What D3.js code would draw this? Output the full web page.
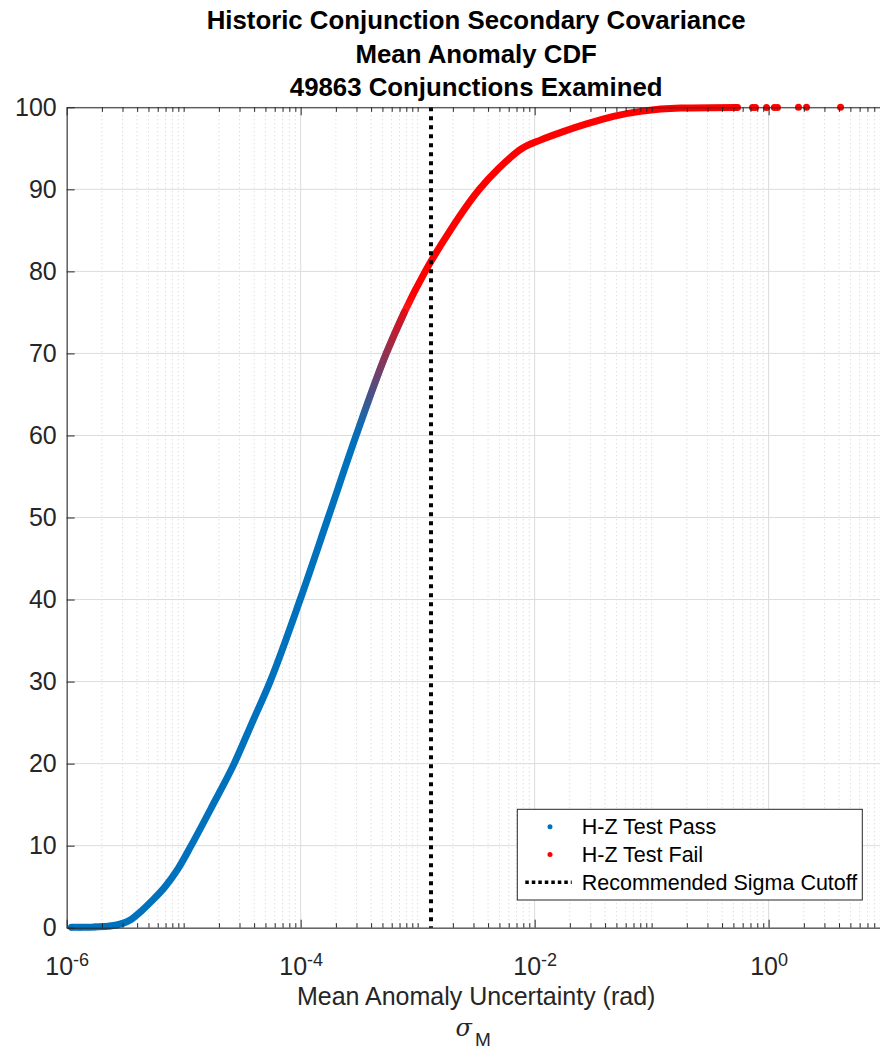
<!DOCTYPE html>
<meta charset="utf-8">
<script src="https://d3js.org/d3.v7.min.js"></script>
<style>
body { margin: 0; background: white; }
svg { display: block; font-family: "Liberation Sans", Arial, Helvetica, sans-serif; }
.axis path, .axis line { stroke: #262626; }
.axis text { fill: #262626; font-size: 25px; }
.grid-major line { stroke: #dcdcdc; stroke-width: 1; }
.grid-minor line { stroke: #d0d0d0; stroke-width: 1; stroke-dasharray: 1 3; }
.title { font-weight: bold; font-size: 25.8px; fill: #000; }
.legend text { font-size: 21.5px; fill: #000; }
</style>
<body>
<svg id="chart" width="880" height="1049"></svg>
<script>
// CDF: sigma (rad) and cumulative percent
var passSigma = [1.1e-6, 1.3e-6, 1.75e-6, 2.35e-6, 2.97e-6, 3.55e-6, 4.32e-6, 5.37e-6, 6.93e-6, 8.96e-6,
                 1.158e-5, 1.78e-5, 2.7e-5, 3.85e-5, 5.48e-5, 9.9e-5, 1.719e-4, 2.98e-4, 5.39e-4, 7.68e-4];
var passCdf   = [0.05, 0.05, 0.1, 0.2, 0.5, 1, 2, 3.3, 5, 7.2,
                 10, 15, 20, 25, 30, 40, 50, 60, 70, 75];

var failSigma = [2.98e-4, 5.39e-4, 7.68e-4, 1.161e-3, 1.9e-3, 3.37e-3, 4.89e-3, 7.85e-3, 0.01119, 0.01726,
                 0.0282, 0.0471, 0.0802, 0.1764, 0.542];
var failCdf   = [60, 70, 75, 80, 85, 90, 92.5, 95, 96, 97,
                 98, 98.9, 99.5, 99.9, 99.97];

// sparse fail points at the top end
var tailSigma = [0.728, 0.772, 0.96, 1.12, 1.19, 1.80, 2.11, 4.12];
var tailCdf   = [99.98, 99.98, 99.99, 99.99, 99.99, 100, 100, 100];

var cutoffSigma = 1.3e-3;

var xMajorTicks = [1e-6, 1e-4, 1e-2, 1e0];
var xTickExp    = ["-6", "-4", "-2", "0"];
var yTicks      = [0, 10, 20, 30, 40, 50, 60, 70, 80, 90, 100];

var titleLines  = ["Historic Conjunction Secondary Covariance", "Mean Anomaly CDF", "49863 Conjunctions Examined"];
var legendNames = ["H-Z Test Pass", "H-Z Test Fail", "Recommended Sigma Cutoff"];

var blue = "#0072BD", red = "#FF0000";

var svg = d3.select("#chart");
var margin = { top: 107.3, left: 66.7 };
var width = 818.9, height = 820.4;

var g = svg.append("g").attr("transform", "translate(" + margin.left + "," + margin.top + ")");

var x = d3.scaleLog().domain([1e-6, 1e1]).range([0, width]);
var y = d3.scaleLinear().domain([0, 100]).range([height, 0]);

var majorSet = xMajorTicks.map(function(d) { return Math.round(Math.log10(d)); });
var xMinor = x.ticks().filter(function(d) {
    var l = Math.log10(d);
    return !(Math.abs(l - Math.round(l)) < 1e-9 && majorSet.indexOf(Math.round(l)) >= 0);
});

// grids
g.append("g").attr("class", "grid-minor")
    .selectAll("line").data(xMinor).enter().append("line")
    .attr("x1", function(d) { return x(d); }).attr("x2", function(d) { return x(d); })
    .attr("y1", 0).attr("y2", height);
g.append("g").attr("class", "grid-major")
    .selectAll("line").data(xMajorTicks).enter().append("line")
    .attr("x1", function(d) { return x(d); }).attr("x2", function(d) { return x(d); })
    .attr("y1", 0).attr("y2", height);
g.append("g").attr("class", "grid-major")
    .selectAll("line").data(yTicks).enter().append("line")
    .attr("x1", 0).attr("x2", width)
    .attr("y1", function(d) { return y(d); }).attr("y2", function(d) { return y(d); });

// gradient so the fail band fades in over the pass band
var defs = svg.append("defs");
var grad = defs.append("linearGradient").attr("id", "failFade")
    .attr("gradientUnits", "userSpaceOnUse")
    .attr("x1", 0).attr("x2", 0)
    .attr("y1", y(61)).attr("y2", y(77));
grad.append("stop").attr("offset", 0).attr("stop-color", red).attr("stop-opacity", 0.05);
grad.append("stop").attr("offset", 1).attr("stop-color", red).attr("stop-opacity", 1);

var line = d3.line()
    .curve(d3.curveMonotoneX)
    .x(function(d) { return x(d[0]); })
    .y(function(d) { return y(d[1]); });

var passPts = d3.zip(passSigma, passCdf);
var failPts = d3.zip(failSigma, failCdf);
var tailPts = d3.zip(tailSigma, tailCdf);

g.append("path").datum(passPts)
    .attr("d", line).attr("fill", "none").attr("stroke", blue)
    .attr("stroke-width", 7).attr("stroke-linecap", "round").attr("stroke-linejoin", "round");
g.append("g").selectAll("circle").data(passPts.slice(0, 5)).enter().append("circle")
    .attr("cx", function(d) { return x(d[0]); }).attr("cy", function(d) { return y(d[1]); })
    .attr("r", 3.3).attr("fill", blue);

g.append("path").datum(failPts)
    .attr("d", line).attr("fill", "none").attr("stroke", "url(#failFade)")
    .attr("stroke-width", 7).attr("stroke-linecap", "round").attr("stroke-linejoin", "round");
g.append("g").selectAll("circle").data(tailPts).enter().append("circle")
    .attr("cx", function(d) { return x(d[0]); }).attr("cy", function(d) { return y(d[1]); })
    .attr("r", 3.5).attr("fill", red);

// cutoff line
g.append("line")
    .attr("x1", x(cutoffSigma)).attr("x2", x(cutoffSigma))
    .attr("y1", 0).attr("y2", height)
    .attr("stroke", "#000").attr("stroke-width", 4).attr("stroke-dasharray", "4 5");

// axes
var xAxis = g.append("g").attr("class", "axis")
    .attr("transform", "translate(0," + height + ")")
    .call(d3.axisBottom(x).tickValues(xMajorTicks).tickSizeInner(-8).tickSizeOuter(0).tickPadding(12).tickFormat(""));
xAxis.selectAll(".tick text").each(function(d, i) {
    var t = d3.select(this);
    t.append("tspan").text("10");
    t.append("tspan").attr("dy", "-0.5em").style("font-size", "18px").text(xTickExp[i]);
});
xAxis.selectAll(".tick text").attr("dy", "1.4em");
g.append("g").attr("class", "axis")
    .call(d3.axisBottom(x).tickValues(xMinor).tickSize(-4.5).tickFormat(""))
    .attr("transform", "translate(0," + height + ")")
    .select(".domain").remove();

g.append("g").attr("class", "axis")
    .call(d3.axisTop(x).tickValues(xMajorTicks).tickSizeInner(-8).tickSizeOuter(0).tickFormat(""));
g.append("g").attr("class", "axis")
    .call(d3.axisTop(x).tickValues(xMinor).tickSize(-4.5).tickFormat(""))
    .select(".domain").remove();

g.append("g").attr("class", "axis")
    .call(d3.axisLeft(y).tickValues(yTicks).tickSizeInner(-8).tickSizeOuter(0).tickPadding(10));

// titles
svg.append("g").selectAll("text").data(titleLines).enter().append("text")
    .attr("class", "title")
    .attr("x", margin.left + width / 2)
    .attr("y", function(d, i) { return 29 + i * 33.5; })
    .attr("text-anchor", "middle")
    .text(function(d) { return d; });

var xl = svg.append("g");
xl.append("text")
    .attr("x", margin.left + width / 2).attr("y", 1005)
    .attr("text-anchor", "middle")
    .style("font-size", "25px").attr("fill", "#262626")
    .text("Mean Anomaly Uncertainty (rad)");
var sig = xl.append("text")
    .attr("x", margin.left + width / 2 - 3).attr("y", 1036)
    .attr("text-anchor", "middle")
    .style("font-size", "24px").attr("fill", "#262626");
sig.append("tspan").style("font-family", "DejaVu Serif").style("font-style", "italic").text("σ");
sig.append("tspan").attr("dx", "3").attr("dy", "0.5em").style("font-size", "19px").text("M");

// legend
var lg = svg.append("g").attr("class", "legend").attr("transform", "translate(517.3,809.3)");
lg.append("rect").attr("width", 345).attr("height", 90.7)
    .attr("fill", "white").attr("stroke", "#262626").attr("stroke-width", 1);
var rows = lg.selectAll("g.row").data(legendNames).enter().append("g").attr("class", "row")
    .attr("transform", function(d, i) { return "translate(0," + (17.4 + i * 27.8) + ")"; });
rows.append("text").attr("x", 64.4).attr("dy", "0.36em").text(function(d) { return d; });
rows.filter(function(d, i) { return i < 2; }).append("circle")
    .attr("cx", 32.7).attr("r", 2.5)
    .attr("fill", function(d, i) { return i === 0 ? blue : red; });
rows.filter(function(d, i) { return i === 2; }).append("line")
    .attr("x1", 8).attr("x2", 54.4)
    .attr("stroke", "#000").attr("stroke-width", 3.5).attr("stroke-dasharray", "3.5 3");
</script>
</body>
